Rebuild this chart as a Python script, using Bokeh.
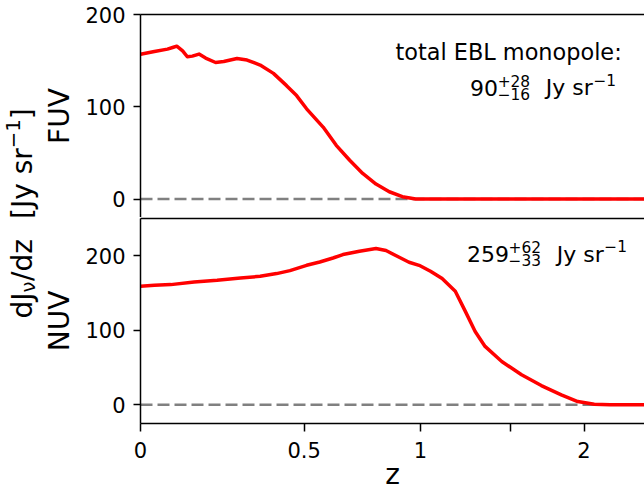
import numpy as np
from bokeh.plotting import figure
from bokeh.models import Range1d, FixedTicker, Span, Label, LinearAxis, CustomJSTickFormatter
from bokeh.layouts import row, column
from bokeh.embed import file_html
from bokeh.resources import INLINE

# ---------------- data ----------------
fuv_z = [0.0, 0.035, 0.069, 0.085, 0.094, 0.110, 0.123, 0.137, 0.156, 0.175, 0.2045, 0.229,
         0.270, 0.302, 0.345, 0.390, 0.436, 0.472, 0.509, 0.572, 0.624, 0.679, 0.734,
         0.792, 0.852, 0.913, 0.977, 1.2, 1.6, 2.0, 2.5]
fuv_dj = [157.0, 159.9, 162.5, 164.5, 165.7, 160.6, 154.2, 154.9, 157.1, 152.8, 148.0, 149.1,
          152.3, 150.6, 145.2, 136.2, 122.9, 112.1, 97.8, 78.0, 58.2, 42.0, 27.7,
          16.2, 7.9, 2.5, 0.0, 0.0, 0.0, 0.0, 0.0]

nuv_z = [0.0, 0.035, 0.078, 0.142, 0.209, 0.281, 0.345, 0.401, 0.448, 0.509, 0.559,
         0.611, 0.651, 0.720, 0.792, 0.837, 0.898, 0.945, 0.994, 1.051, 1.111, 1.181,
         1.236, 1.291, 1.348, 1.447, 1.570, 1.699, 1.836, 1.954, 2.077, 2.2, 2.5]
nuv_dj = [159.0, 160.3, 161.3, 164.8, 167.1, 170.2, 172.4, 176.1, 180.1, 187.2, 191.7,
          197.0, 201.6, 206.0, 209.7, 207.0, 198.0, 191.3, 187.2, 179.2, 169.4, 152.3,
          125.4, 98.5, 78.4, 58.2, 40.3, 25.9, 13.4, 4.4, 0.8, 0.0, 0.0]

x_tick_values = [0, 0.5, 1, 1.5, 2]
x_tick_labels = ["0", "0.5", "1", "", "2"]
y_tick_values = [0, 100, 200]
panel_names = ["FUV", "NUV"]
x_label = "z"
title_line = "total EBL monopole:"
fuv_total = ("90", "+28", "\u221216")
nuv_total = ("259", "+62", "\u221233")
unit_text = ("Jy sr", "\u22121")

# ---------------- layout constants ----------------
FONT = "DejaVu Sans"
X_END = 3.485            # 1+z at the right edge of the frame
FRAME_L, FRAME_W = 136, 508
LEFT_W = 40
MAIN_W = 644 - LEFT_W
TOP_T, TOP_H = 14, 203          # top panel frame: 14 .. 217
BOT_T, BOT_H = 218, 205         # bottom panel frame: 218 .. 423
TOTAL_H = 494
BOT_AX = TOTAL_H - (TOP_T + TOP_H) - 1 - BOT_H   # room for tick labels and "z"

ADV = {c: 1303 for c in "0123456789"}
ADV.update({'+': 1716, '\u2212': 1716, 'J': 604, 'y': 1212, ' ': 651, 's': 1067,
            'r': 842, 'd': 1300, 'z': 1075, '/': 690, '[': 799, ']': 799, '\u03bd': 1212})


def tw(s, size):
    return sum(ADV.get(c, 1250) for c in s) / 2048.0 * size


def page_to_data(px, py, top, h, y0, y1):
    x = 10 ** ((px - FRAME_L) / FRAME_W * np.log10(X_END))
    y = y1 - (py - top) / h * (y1 - y0)
    return float(x), float(y)


xr = Range1d(1.0, X_END)


def blank_axis():
    return LinearAxis(ticker=FixedTicker(ticks=[]), major_tick_out=0, major_tick_in=0,
                      minor_tick_out=0, minor_tick_in=0, major_label_standoff=0,
                      axis_line_width=1.5, axis_line_color="black")


def make_panel(height, min_top, min_bottom, y0, y1, z, dj, name, with_xaxis):
    p = figure(width=MAIN_W, height=height, x_axis_type="log", x_range=xr,
               y_range=Range1d(y0, y1), output_backend="svg", toolbar_location=None,
               min_border_left=FRAME_L - LEFT_W, min_border_right=0,
               min_border_top=min_top, min_border_bottom=min_bottom,
               x_axis_location="below" if with_xaxis else None)
    p.outline_line_color = None
    p.xgrid.visible = False
    p.ygrid.visible = False
    p.background_fill_color = "white"
    p.border_fill_color = "white"

    ya = p.left[0]
    ya.ticker = FixedTicker(ticks=y_tick_values)
    ya.major_tick_out = 7
    ya.major_tick_in = 0
    ya.minor_tick_out = 0
    ya.minor_tick_in = 0
    ya.major_tick_line_width = 1.5
    ya.axis_line_width = 1.5
    ya.major_label_text_font = FONT
    ya.major_label_text_font_size = "21px"
    ya.major_label_text_color = "black"
    ya.major_label_standoff = 8
    ya.axis_label = name
    ya.axis_label_text_font = FONT
    ya.axis_label_text_font_size = "28px"
    ya.axis_label_text_font_style = "normal"
    ya.axis_label_text_color = "black"
    ya.axis_label_standoff = 6

    zero = Span(location=0, dimension="width", line_color="#808080", line_width=2.5,
                line_dash="12 5", level="underlay")
    p.add_layout(zero)
    p.line(x=np.asarray(z) + 1.0, y=dj, line_color="#ff0000", line_width=3.5,
           line_join="round")
    return p


def add_text(p, px, py, text, size, top, h, y0, y1, align="left"):
    x, y = page_to_data(px, py, top, h, y0, y1)
    p.add_layout(Label(x=x, y=y, text=text, text_font=FONT,
                       text_font_size=f"{size}px", text_color="black",
                       text_align=align, text_baseline="alphabetic"))


def add_total(p, x0, base, parts, top, h, y0, y1):
    big, sup, sub = parts
    add_text(p, x0, base, big, 22, top, h, y0, y1)
    x1 = x0 + tw(big, 22)
    add_text(p, x1, base - 7, sup, 15.4, top, h, y0, y1)
    add_text(p, x1, base + 6, sub, 15.4, top, h, y0, y1)
    x2 = x1 + tw(sup, 15.4) + 16
    add_text(p, x2, base, unit_text[0], 22, top, h, y0, y1)
    x3 = x2 + tw(unit_text[0], 22) + 1
    add_text(p, x3, base - 8, unit_text[1], 15.4, top, h, y0, y1)


# ---------------- top panel (FUV) ----------------
top = make_panel(TOP_T + TOP_H, TOP_T, 0, -20, 200, fuv_z, fuv_dj, panel_names[0], False)
top.add_layout(blank_axis(), "above")

add_text(top, 621, 51, title_line, 22.4, TOP_T, TOP_H, -20, 200, align="right")
add_total(top, 468, 87, fuv_total, TOP_T, TOP_H, -20, 200)

# ---------------- bottom panel (NUV) ----------------
bot = make_panel(1 + BOT_H + BOT_AX, 1, BOT_AX, -25, 250, nuv_z, nuv_dj, panel_names[1], True)
xb = bot.below[0]
xb.ticker = FixedTicker(ticks=[v + 1.0 for v in x_tick_values])
lab_map = {f"{v + 1.0:.2f}": s for v, s in zip(x_tick_values, x_tick_labels)}
js_map = ",".join(f'"{k}": "{s}"' for k, s in lab_map.items())
xb.formatter = CustomJSTickFormatter(code=f"const m = {{{js_map}}}; const k = tick.toFixed(2); return (k in m) ? m[k] : '';")
xb.major_tick_out = 8
xb.major_tick_in = 0
xb.minor_tick_out = 0
xb.minor_tick_in = 0
xb.major_tick_line_width = 1.5
xb.axis_line_width = 1.5
xb.major_label_text_font = FONT
xb.major_label_text_font_size = "21px"
xb.major_label_text_color = "black"
xb.major_label_standoff = 10
xb.axis_label = x_label
xb.axis_label_text_font = FONT
xb.axis_label_text_font_size = "28px"
xb.axis_label_text_font_style = "normal"
xb.axis_label_text_color = "black"
xb.axis_label_standoff = -3
bot.add_layout(blank_axis(), "above")

add_total(bot, 465, 253.5, nuv_total, BOT_T, BOT_H, -25, 250)

# ---------------- left label column ----------------
lf = figure(title=None, width=LEFT_W, height=TOTAL_H, x_range=Range1d(0, LEFT_W),
            y_range=Range1d(0, TOTAL_H), output_backend="svg", toolbar_location=None,
            min_border=0, x_axis_location=None, y_axis_location=None)
lf.outline_line_color = None
lf.xgrid.visible = False
lf.ygrid.visible = False
lf.background_fill_color = "white"
lf.border_fill_color = "white"

BIG, SCR = 28, 19.6
pieces = [("dJ", BIG, 0), ("\u03bd", SCR, 5.5), ("/dz", BIG, 0), (None, 20, 0),
          ("[Jy sr", BIG, 0), ("\u22121", SCR, -10), ("]", BIG, 0)]
total_len = sum(tw(t, s) if t else s for t, s, _ in pieces)
base_x, center_y = 22, 213
py = center_y + total_len / 2
for t, s, dx in pieces:
    if t is None:
        py -= s
        continue
    lf.add_layout(Label(x=base_x + dx, y=TOTAL_H - py, text=t, angle=np.pi / 2,
                        text_font=FONT, text_font_size=f"{s}px", text_color="black",
                        text_align="left", text_baseline="alphabetic"))
    py -= tw(t, s)

layout = row(lf, column(top, bot, spacing=0), spacing=0)
open("out.html", "w").write(file_html(layout, INLINE))
